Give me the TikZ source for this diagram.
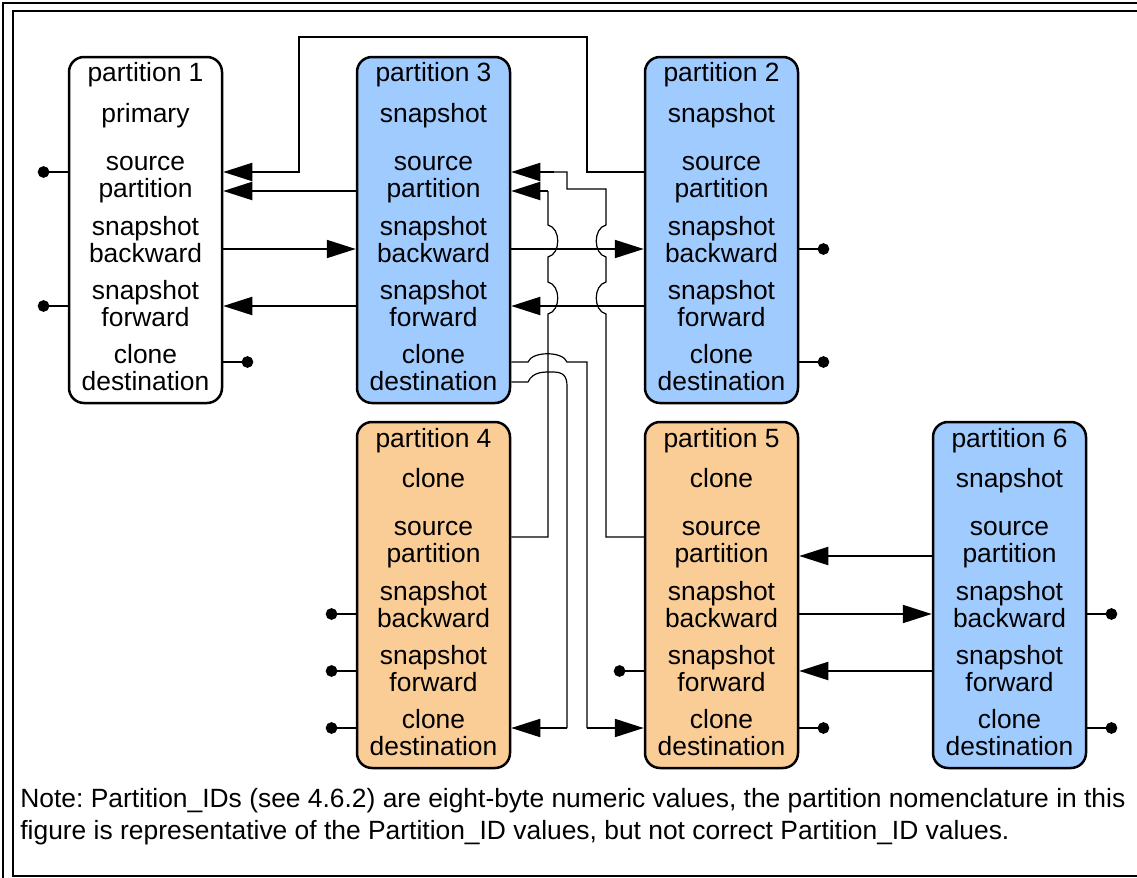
\documentclass[tikz,border=0pt]{standalone}
\usepackage{fontspec}
\setmainfont{Liberation Sans}
\usetikzlibrary{arrows.meta,calc}
\definecolor{pblue}{RGB}{160,203,255}
\definecolor{porange}{RGB}{250,204,150}
\frenchspacing
\begin{document}
\begin{tikzpicture}[x=0.5pt,y=-0.5pt,
  font=\fontsize{13.2}{13.5}\selectfont,
  pbox/.style={draw, line width=1.25pt, rounded corners=7.5pt, minimum width=76.5pt, minimum height=173pt, inner sep=0pt},
  lbl/.style={anchor=base, inner sep=0pt},
  conn/.style={line width=1pt, -{Triangle[length=14.5pt,width=9pt]}},
  link/.style={line width=1pt},
  thinlink/.style={line width=0.6pt},
  stub/.style={line width=1pt, -{Circle[length=5.8pt]}},
  frame/.style={line width=1.2pt}]
\useasboundingbox (0,0) rectangle (1137,878);
\clip (0,0) rectangle (1137,878);
\draw[frame] (3,3) rectangle (1160,900);
\draw[frame] (13,11) rectangle (1150,876);

% row coordinates
\coordinate (yA) at (0,172);
\coordinate (yB) at (0,191);
\coordinate (yC) at (0,249);
\coordinate (yD) at (0,306);
\coordinate (yE) at (0,362);
\coordinate (yF) at (0,382);
\coordinate (zA) at (0,537);
\coordinate (zB) at (0,556);
\coordinate (zC) at (0,614);
\coordinate (zD) at (0,671);
\coordinate (zE) at (0,728);

% boxes
\node[pbox, fill=white]   (p1) at (145.5,230) {};
\node[pbox, fill=pblue]   (p3) at (433.5,230) {};
\node[pbox, fill=pblue]   (p2) at (721.5,230) {};
\node[pbox, fill=porange] (p4) at (433.5,595) {};
\node[pbox, fill=porange] (p5) at (721.5,595) {};
\node[pbox, fill=pblue]   (p6) at (1009.5,595) {};

% labels
\foreach \n/\cx/\ty/\role in {1/145.5/57/primary, 3/433.5/57/snapshot, 2/721.5/57/snapshot, 4/433.5/422/clone, 5/721.5/422/clone, 6/1009.5/422/snapshot}{
  \node[lbl] (t\n a) at (\cx,\ty+25) {partition \n};
  \node[lbl] (t\n b) at (\cx,\ty+65) {\role};
  \node[lbl] (t\n c) at (\cx,\ty+113) {source};
  \node[lbl] (t\n d) at (\cx,\ty+140) {partition};
  \node[lbl] (t\n e) at (\cx,\ty+178) {snapshot};
  \node[lbl] (t\n f) at (\cx,\ty+205) {backward};
  \node[lbl] (t\n g) at (\cx,\ty+242) {snapshot};
  \node[lbl] (t\n h) at (\cx,\ty+269) {forward};
  \node[lbl] (t\n i) at (\cx,\ty+306) {clone};
  \node[lbl] (t\n j) at (\cx,\ty+333) {destination};
}

% top row connectors
\draw[conn] (p2.west |- yA) -- (587,172) -- (587,37) -- (299,37) -- (299,172) -- (p1.east |- yA);
\draw[conn] (p3.west |- yB) -- (p1.east |- yB);
\draw[conn] (p1.east |- yC) -- (p3.west |- yC);
\draw[conn] (p3.west |- yD) -- (p1.east |- yD);
\draw[conn] (p3.east |- yC) -- (p2.west |- yC);
\draw[conn] (p2.west |- yD) -- (p3.east |- yD);

% partition 4 source -> partition 3 source
\draw[thinlink] (p4.east |- zA) -- (548,537) -- (548,314)
  .. controls (561,311) and (561,285) .. (548,282) -- (548,257)
  .. controls (561,254) and (561,228) .. (548,225) -- (548,191);
\draw[conn] (548,191) -- (p3.east |- yB);

% partition 5 source -> partition 3 source
\draw[thinlink] (p5.west |- zA) -- (606,537) -- (606,314)
  .. controls (593,311) and (593,285) .. (606,282) -- (606,257)
  .. controls (593,254) and (593,228) .. (606,225) -- (606,189) -- (567,189) -- (567,172) -- (554,172);
\draw[conn] (554,172) -- (p3.east |- yA);

% partition 3 clone destination -> partition 5 clone destination
\draw[thinlink] (p3.east |- yE) -- (528,362) .. controls (532,351) and (563,351) .. (567,362) -- (587,362) -- (587,728);
\draw[conn] (587,728) -- (p5.west |- zE);

% partition 3 clone destination -> partition 4 clone destination
\draw[thinlink] (p3.east |- yF) -- (528,382) .. controls (533,371) and (545,372) .. (553,372)
  .. controls (563,372) and (567,376) .. (567,386) -- (567,728);
\draw[conn] (567,728) -- (p4.east |- zE);

% bottom row connectors
\draw[conn] (p6.west |- zB) -- (p5.east |- zB);
\draw[conn] (p5.east |- zC) -- (p6.west |- zC);
\draw[conn] (p6.west |- zD) -- (p5.east |- zD);

% unconnected ends
\draw[stub] (p1.west |- yA) -- ++(-30,0);
\draw[stub] (p1.west |- yD) -- ++(-30,0);
\draw[stub] (p1.east |- yE) -- ++(30,0);
\draw[stub] (p2.east |- yC) -- ++(30,0);
\draw[stub] (p2.east |- yE) -- ++(30,0);
\draw[stub] (p4.west |- zC) -- ++(-30,0);
\draw[stub] (p4.west |- zD) -- ++(-30,0);
\draw[stub] (p4.west |- zE) -- ++(-30,0);
\draw[stub] (p5.west |- zD) -- ++(-30,0);
\draw[stub] (p5.east |- zE) -- ++(30,0);
\draw[stub] (p6.east |- zC) -- ++(30,0);
\draw[stub] (p6.east |- zE) -- ++(30,0);

% note
\node[anchor=base west, inner sep=0pt] (note1) at (20,807) {Note: Partition\_IDs (see 4.6.2) are eight-byte numeric values, the partition nomenclature in this};
\node[anchor=base west, inner sep=0pt] (note2) at (20,839) {figure is representative of the Partition\_ID values, but not correct Partition\_ID values.};
\end{tikzpicture}
\end{document}
